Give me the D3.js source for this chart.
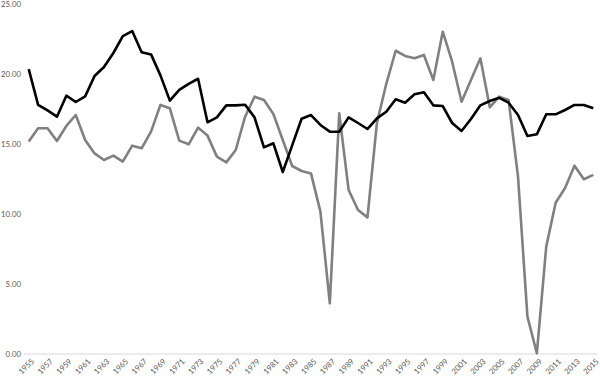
<!DOCTYPE html>
<html>
<head>
<meta charset="utf-8">
<script src="https://cdn.jsdelivr.net/npm/d3@7"></script>
<style>
  body { margin: 0; background: #fff; }
  svg text { font-family: Lato, "Open Sans", sans-serif; fill: #595959; }
</style>
</head>
<body>
<script>
// 年份
const years = d3.range(1955, 2016);

// 黑線
const blackSeries = [
  20.35, 17.8, 17.4, 16.95, 18.45, 18.0, 18.4, 19.86, 20.5, 21.5,
  22.7, 23.07, 21.55, 21.4, 19.9, 18.1, 18.86, 19.3, 19.66, 16.55,
  16.9, 17.76, 17.76, 17.8, 16.9, 14.76, 15.05, 13.0, 14.9, 16.8,
  17.07, 16.36, 15.88, 15.88, 16.9, 16.5, 16.07, 16.83, 17.3, 18.19,
  17.95, 18.55, 18.69, 17.76, 17.71, 16.5, 15.93, 16.79, 17.76, 18.07,
  18.3, 17.95, 17.07, 15.57, 15.69, 17.12, 17.12, 17.43, 17.79, 17.79,
  17.55
];

// 灰線
const graySeries = [
  15.17, 16.12, 16.12, 15.21, 16.29, 17.07, 15.29, 14.33, 13.86, 14.17,
  13.74, 14.88, 14.69, 15.88, 17.79, 17.55, 15.24, 14.98, 16.17, 15.6,
  14.1, 13.69, 14.57, 16.95, 18.38, 18.14, 17.14, 15.29, 13.43, 13.07,
  12.9, 10.17, 3.62, 17.19, 11.71, 10.29, 9.76, 16.48, 19.3, 21.66,
  21.29, 21.12, 21.36, 19.57, 23.02, 20.88, 18.02, 19.57, 21.12, 17.62,
  18.38, 18.14, 12.67, 2.67, 0.05, 7.67, 10.8, 11.86, 13.45, 12.48,
  12.79
];

// Y 軸刻度
const yTicks = [0, 5, 10, 15, 20, 25];

const width = 600, height = 377;

let svg = d3.select("body")
  .append("svg")
  .attr("width", width)
  .attr("height", height);

// X 軸 (類別)
let x = d3.scaleBand()
  .domain(years)
  .range([24, 598])
  .padding(0),
  xc = d => x(d) + x.bandwidth() / 2;

// Y 軸
let y = d3.scaleLinear()
  .domain([0, 25])
  .range([354, 4]);

// 底線
svg.append("line")
  .attr("x1", 24)
  .attr("x2", 598)
  .attr("y1", y(0))
  .attr("y2", y(0))
  .attr("stroke", "#d9d9d9")
  .attr("stroke-width", 1);

// Y 軸標籤
let yAxis = d3.axisLeft(y)
  .tickValues(yTicks)
  .tickFormat(d3.format(".2f"))
  .tickSize(0)
  .tickPadding(0);

svg.append("g")
  .attr("class", "y axis")
  .attr("transform", "translate(21, 0)")
  .call(yAxis)
  .call(g => g.select(".domain").remove())
  .call(g => g.selectAll("text")
    .style("font-size", "7.8px")
    .style("fill", "#595959"));

// X 軸標籤，每兩年一個
svg.append("g")
  .attr("class", "x axis")
  .selectAll("text")
  .data(years.filter(d => (d - 1955) % 2 === 0))
  .join("text")
  .attr("text-anchor", "end")
  .attr("transform", d => "translate(" + (xc(d) + 4) + ", 360) rotate(-45)")
  .attr("dy", "0.35em")
  .style("font-size", "7.8px")
  .text(d => d);

// 折線
let valueline = d3.line()
  .x((d, i) => xc(years[i]))
  .y(d => y(d));

svg.append("path")
  .attr("fill", "none")
  .attr("stroke", "#808080")
  .attr("stroke-width", 2.6)
  .attr("stroke-linejoin", "round")
  .attr("d", valueline(graySeries));

svg.append("path")
  .attr("fill", "none")
  .attr("stroke", "#000")
  .attr("stroke-width", 2.6)
  .attr("stroke-linejoin", "round")
  .attr("d", valueline(blackSeries));
</script>
</body>
</html>
